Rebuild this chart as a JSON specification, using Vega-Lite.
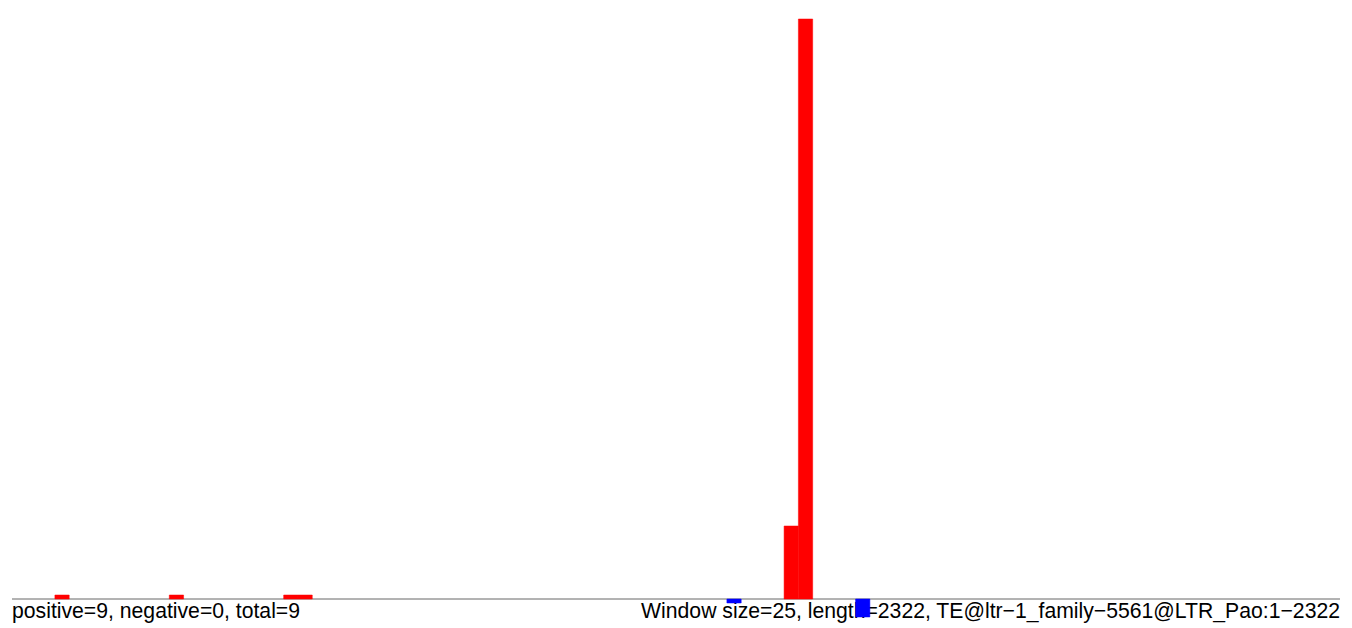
{
  "$schema": "https://vega.github.io/schema/vega-lite/v6.json",
  "width": 1352,
  "height": 628,
  "autosize": {"type": "fit", "contains": "padding"},
  "padding": 0,
  "background": "white",
  "view": {"stroke": null},
  "datasets": {
    "bars": [
      {"start": 75, "end": 100, "value": 4, "strand": "positive"},
      {"start": 275, "end": 300, "value": 4, "strand": "positive"},
      {"start": 475, "end": 500, "value": 4, "strand": "positive"},
      {"start": 500, "end": 525, "value": 4, "strand": "positive"},
      {"start": 1250, "end": 1275, "value": -4, "strand": "negative"},
      {"start": 1350, "end": 1375, "value": 73, "strand": "positive"},
      {"start": 1375, "end": 1400, "value": 580, "strand": "positive"},
      {"start": 1475, "end": 1500, "value": -18, "strand": "negative"}
    ],
    "axisline": [{"from": 0, "to": 2322, "y": 0}],
    "labels": [
      {"pos": 0, "y": -19, "label": "positive=9, negative=0, total=9", "side": "left"},
      {"pos": 2322, "y": -19, "label": "Window size=25, length=2322, TE@ltr−1_family−5561@LTR_Pao:1−2322", "side": "right"}
    ]
  },
  "layer": [
    {
      "data": {"name": "labels"},
      "transform": [{"filter": "datum.side == 'left'"}],
      "mark": {"type": "text", "align": "left", "baseline": "alphabetic", "font": "Liberation Sans", "fontSize": 21.2, "color": "black"},
      "encoding": {
        "x": {"field": "pos", "type": "quantitative", "scale": {"domain": [-21, 2343], "nice": false, "zero": false}, "axis": null},
        "y": {"field": "y", "type": "quantitative", "scale": {"domain": [-29, 599], "nice": false, "zero": false}, "axis": null},
        "text": {"field": "label"}
      }
    },
    {
      "data": {"name": "labels"},
      "transform": [{"filter": "datum.side == 'right'"}],
      "mark": {"type": "text", "align": "right", "baseline": "alphabetic", "font": "Liberation Sans", "fontSize": 21.2, "color": "black"},
      "encoding": {
        "x": {"field": "pos", "type": "quantitative"},
        "y": {"field": "y", "type": "quantitative"},
        "text": {"field": "label"}
      }
    },
    {
      "data": {"name": "axisline"},
      "mark": {"type": "rule", "color": "#666666", "strokeWidth": 1},
      "encoding": {
        "x": {"field": "from", "type": "quantitative"},
        "x2": {"field": "to"},
        "y": {"field": "y", "type": "quantitative"}
      }
    },
    {
      "data": {"name": "bars"},
      "mark": {"type": "rect", "strokeWidth": 0.5},
      "encoding": {
        "x": {"field": "start", "type": "quantitative"},
        "x2": {"field": "end"},
        "y": {"field": "value", "type": "quantitative"},
        "y2": {"datum": 0},
        "color": {"field": "strand", "type": "nominal", "scale": {"domain": ["positive", "negative"], "range": ["#FF0000", "#0000FF"]}, "legend": null},
        "stroke": {"field": "strand", "type": "nominal", "scale": {"domain": ["positive", "negative"], "range": ["#FF0000", "#0000FF"]}, "legend": null}
      }
    }
  ]
}
